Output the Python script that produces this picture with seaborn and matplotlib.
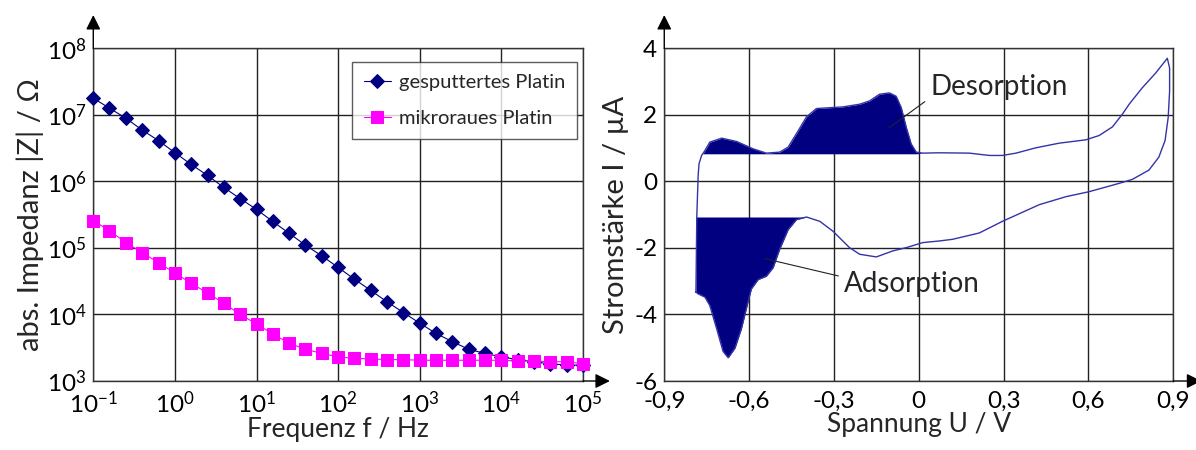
import numpy as np
import matplotlib
matplotlib.use("Agg")
import matplotlib.pyplot as plt
import seaborn as sns
from matplotlib.ticker import FixedLocator, NullLocator

# Daten: Impedanzspektren (links)
frequenz = [0.1, 0.158, 0.251, 0.398, 0.631, 1, 1.58, 2.51, 3.98, 6.31,
            10, 15.8, 25.1, 39.8, 63.1, 100, 158, 251, 398, 631,
            1000, 1580, 2510, 3980, 6310, 1e4, 1.58e4, 2.51e4, 3.98e4, 6.31e4, 1e5]
z_gesputtert = [1.78e7, 1.26e7, 8.9e6, 5.9e6, 4.1e6, 2.7e6, 1.8e6, 1.23e6, 8.1e5, 5.5e5,
                3.8e5, 2.5e5, 1.66e5, 1.1e5, 7.6e4, 5.1e4, 3.4e4, 2.3e4, 1.55e4, 1.07e4,
                7.4e3, 5.2e3, 3.9e3, 3.0e3, 2.6e3, 2.3e3, 2.1e3, 1.95e3, 1.8e3, 1.75e3, 1.72e3]
z_mikroraus = [2.57e5, 1.82e5, 1.2e5, 8.5e4, 6.0e4, 4.2e4, 2.95e4, 2.1e4, 1.48e4, 1.0e4,
               7.2e3, 5.1e3, 3.7e3, 3.0e3, 2.6e3, 2.3e3, 2.2e3, 2.14e3, 2.1e3, 2.1e3,
               2.05e3, 2.05e3, 2.05e3, 2.05e3, 2.05e3, 2.05e3, 2.0e3, 2.0e3, 1.95e3, 1.95e3, 1.82e3]

# Daten: Zyklovoltammogramm (rechts)
u_anodisch = [-0.788, -0.785, -0.782, -0.780, -0.777, -0.768, -0.756, -0.739, -0.697, -0.644,
              -0.586, -0.539, -0.492, -0.462, -0.433, -0.397, -0.362, -0.268, -0.209, -0.174,
              -0.139, -0.104, -0.080, -0.062, -0.044, -0.027, -0.009, 0.014, 0.073, 0.179,
              0.250, 0.296, 0.344, 0.414, 0.497, 0.591, 0.638, 0.685, 0.720, 0.744,
              0.790, 0.838, 0.879]
i_anodisch = [-3.33, -1.07, -0.30, 0.20, 0.53, 0.78, 0.93, 1.18, 1.30, 1.20,
              0.98, 0.85, 0.88, 1.03, 1.43, 1.94, 2.19, 2.24, 2.32, 2.42,
              2.62, 2.66, 2.56, 2.22, 1.62, 1.13, 0.88, 0.85, 0.86, 0.85,
              0.78, 0.78, 0.85, 1.01, 1.15, 1.25, 1.38, 1.64, 2.02, 2.32,
              2.81, 3.26, 3.70]
u_kathodisch = [0.887, 0.887, 0.882, 0.871, 0.849, 0.814, 0.755, 0.708, 0.602, 0.520,
                0.426, 0.296, 0.214, 0.120, 0.073, 0.014, -0.044, -0.092, -0.150, -0.209,
                -0.245, -0.303, -0.350, -0.397, -0.433, -0.462, -0.492, -0.515, -0.539, -0.568,
                -0.592, -0.607, -0.627, -0.650, -0.674, -0.692, -0.715, -0.739, -0.756, -0.780,
                -0.788]
i_kathodisch = [3.41, 2.71, 1.92, 1.23, 0.73, 0.34, 0.06, -0.06, -0.31, -0.46,
                -0.70, -1.20, -1.55, -1.74, -1.79, -1.84, -1.99, -2.09, -2.27, -2.19,
                -1.99, -1.50, -1.20, -1.07, -1.15, -1.45, -2.04, -2.59, -2.85, -2.95,
                -3.23, -3.73, -4.42, -5.01, -5.30, -5.11, -4.42, -3.73, -3.48, -3.38,
                -3.33]
basis_desorption = 0.83
basis_adsorption = -1.07

spannung_ticks = [-0.9, -0.6, -0.3, 0, 0.3, 0.6, 0.9]
spannung_labels = ["-0,9", "-0,6", "-0,3", "0", "0,3", "0,6", "0,9"]
strom_ticks = [-6, -4, -2, 0, 2, 4]

sns.set_theme(style="white")
plt.rcParams["font.family"] = ["Lato", "DejaVu Sans"]
plt.rcParams["mathtext.fontset"] = "custom"
plt.rcParams["mathtext.rm"] = "Lato"
plt.rcParams["axes.unicode_minus"] = False

fig = plt.figure(figsize=(11.96, 4.5), dpi=100)
ax1 = fig.add_axes([0.078, 0.1533, 0.4094, 0.7393])
ax2 = fig.add_axes([0.5554, 0.1533, 0.4256, 0.7393])

def achsen_stil(ax):
    for s in ax.spines.values():
        s.set_color("#333333")
        s.set_linewidth(1.0)
    ax.grid(True, color="#222222", linewidth=1.0)
    ax.set_axisbelow(True)
    ax.tick_params(axis="both", labelsize=17.5, length=3, width=1, color="black",
                   direction="out", pad=2, labelcolor="black")
    ax.tick_params(axis="x", pad=4)
    # Pfeile an den Achsen
    pfeil = dict(arrowstyle="-|>", color="black", lw=1.0, mutation_scale=22,
                 shrinkA=0, shrinkB=0)
    ax.annotate("", xy=(0, 1.1), xytext=(0, 1.0), xycoords="axes fraction",
                arrowprops=pfeil, annotation_clip=False)
    ax.annotate("", xy=(1.055, 0), xytext=(1.0, 0), xycoords="axes fraction",
                arrowprops=pfeil, annotation_clip=False)

# --- links: Impedanz
sns.lineplot(x=frequenz, y=z_gesputtert, ax=ax1, color="#000080", lw=0.8,
             marker="D", markersize=7.5, markeredgecolor="#000080",
             label="gesputtertes Platin", clip_on=False, zorder=3)
sns.lineplot(x=frequenz, y=z_mikroraus, ax=ax1, color="#ff00ff", lw=0.8,
             marker="s", markersize=9, markeredgecolor="#ff00ff",
             label="mikroraues Platin", clip_on=False, zorder=4)
ax1.set_xscale("log")
ax1.set_yscale("log")
ax1.set_xlim(0.1, 1e5)
ax1.set_ylim(1e3, 1e8)
ax1.xaxis.set_minor_locator(NullLocator())
ax1.yaxis.set_minor_locator(NullLocator())
ax1.set_xlabel("Frequenz f / Hz", fontsize=19, labelpad=0)
ax1.set_ylabel("abs. Impedanz |Z| / Ω", fontsize=21, labelpad=2)
achsen_stil(ax1)
leg = ax1.legend(loc="upper right", bbox_to_anchor=(0.988, 0.96), fontsize=14.5,
                 frameon=True, fancybox=False, edgecolor="#333333",
                 handlelength=1.3, handletextpad=0.4, borderpad=0.6,
                 labelspacing=0.95, borderaxespad=0)
leg.get_frame().set_linewidth(1.0)

# --- rechts: Zyklovoltammogramm
u_an = np.array(u_anodisch)
i_an = np.array(i_anodisch)
u_ka = np.array(u_kathodisch)
i_ka = np.array(i_kathodisch)
ax2.fill_between(u_an, i_an, basis_desorption,
                 where=(u_an <= 0) & (i_an >= basis_desorption),
                 interpolate=True, color="#000080", lw=0, zorder=2)
ax2.fill_between(u_ka, i_ka, basis_adsorption,
                 where=(u_ka <= -0.39) & (i_ka <= basis_adsorption),
                 interpolate=True, color="#000080", lw=0, zorder=2)
u_kurve = np.concatenate([u_an, u_ka])
i_kurve = np.concatenate([i_an, i_ka])
sns.lineplot(x=u_kurve, y=i_kurve, ax=ax2, sort=False, estimator=None,
             color="#3333aa", lw=1.0, zorder=3)
ax2.set_xlim(-0.9, 0.9)
ax2.set_ylim(-6, 4)
ax2.xaxis.set_major_locator(FixedLocator(spannung_ticks))
ax2.set_xticklabels(spannung_labels)
ax2.yaxis.set_major_locator(FixedLocator(strom_ticks))
ax2.set_xlabel("Spannung U / V", fontsize=19, labelpad=0)
ax2.set_ylabel("Stromstärke I / µA", fontsize=21, labelpad=4)
achsen_stil(ax2)

ax2.annotate("Desorption", xy=(-0.104, 1.62), xytext=(0.041, 2.83),
             fontsize=20, ha="left", va="center",
             arrowprops=dict(arrowstyle="-", color="#222222", lw=0.8,
                             relpos=(0, 0.1), shrinkA=2, shrinkB=0))
ax2.annotate("Adsorption", xy=(-0.545, -2.32), xytext=(-0.263, -3.08),
             fontsize=20, ha="left", va="center",
             arrowprops=dict(arrowstyle="-", color="#222222", lw=0.8,
                             relpos=(0, 0.75), shrinkA=2, shrinkB=0))

fig.savefig("out.png", dpi=100)
